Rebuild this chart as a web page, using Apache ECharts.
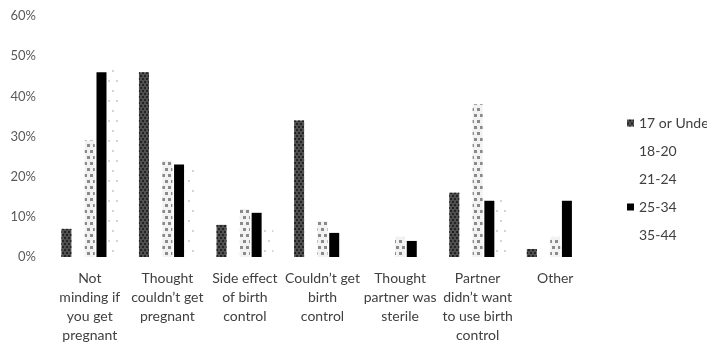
<!DOCTYPE html>
<html><head><meta charset="utf-8">
<script src="https://cdn.jsdelivr.net/npm/echarts@6/dist/echarts.min.js"></script>
<style>html,body{margin:0;padding:0;background:#fff}#c{width:707px;height:343px}</style>
</head><body><div id="c"></div>
<script>
const categories = [
  'Not\nminding if\nyou get\npregnant',
  'Thought\ncouldn\u2019t get\npregnant',
  'Side effect\nof birth\ncontrol',
  'Couldn\u2019t get\nbirth\ncontrol',
  'Thought\npartner was\nsterile',
  'Partner\ndidn\u2019t want\nto use birth\ncontrol',
  'Other'
];
const seriesNames = ['17 or Under', '18-20', '21-24', '25-34', '35-44'];
const under17 = [7, 46, 8, 34, 0, 16, 2];
const age18to20 = [25, 20, 9, 8, 3, 18, 4];
const age21to24 = [29, 24, 12, 9, 5, 38, 5];
const age25to34 = [46, 23, 11, 6, 4, 14, 14];
const age35to44 = [47, 23, 7, 0, 0, 15, 0];
const yTickMin = 0, yTickMax = 60, yTickStep = 10;

const values = [under17, age18to20, age21to24, age25to34, age35to44];
const styles = [
  {color: '#505050', decal: {symbol: 'rect', symbolSize: 0.9, dashArrayX: [[2, 2], [0, 2, 2, 0]], dashArrayY: [2, 1], color: '#202020'}},
  {color: '#ffffff'},
  {color: '#f2f2f2', decal: {symbol: 'rect', symbolSize: 1, dashArrayX: [[3, 3], [0, 3, 3, 0]], dashArrayY: [3, 3], color: '#8a8a8a'}},
  {color: '#000000'},
  {color: '#ffffff', decal: {symbol: 'circle', symbolSize: 1, dashArrayX: [[2, 6], [0, 4, 2, 2]], dashArrayY: [2, 8], color: '#c4c4c4'}}
];
const hiddenIcon = {'18-20': true, '21-24': true, '35-44': true};

const chart = echarts.init(document.getElementById('c'), null, {renderer: 'canvas'});
chart.setOption({
  animation: false,
  backgroundColor: '#ffffff',
  textStyle: {fontFamily: 'Lato'},
  grid: {left: 51, right: 113, top: 16, bottom: 86, containLabel: false, outerBoundsMode: 'none'},
  legend: {
    orient: 'vertical', left: 622, top: 111,
    itemWidth: 7, itemHeight: 7, itemGap: 14, icon: 'rect',
    textStyle: {fontSize: 14, color: '#404040', fontFamily: 'Lato'},
    data: seriesNames.map(n => hiddenIcon[n] ? {name: n, itemStyle: {opacity: 0}} : {name: n})
  },
  xAxis: {
    type: 'category', data: categories,
    axisLine: {show: false}, axisTick: {show: false},
    axisLabel: {interval: 0, fontSize: 14, lineHeight: 19, color: '#404040', margin: 12, fontFamily: 'Lato'}
  },
  yAxis: {
    type: 'value', min: yTickMin, max: yTickMax, interval: yTickStep,
    axisLine: {show: false}, axisTick: {show: false}, splitLine: {show: false},
    axisLabel: {formatter: '{value}%', fontSize: 13, color: '#595959', margin: 15, fontFamily: 'Lato'}
  },
  series: seriesNames.map((n, i) => ({
    name: n, type: 'bar', data: values[i],
    barWidth: 10, barGap: '17%',
    itemStyle: styles[i]
  }))
});
</script></body></html>
